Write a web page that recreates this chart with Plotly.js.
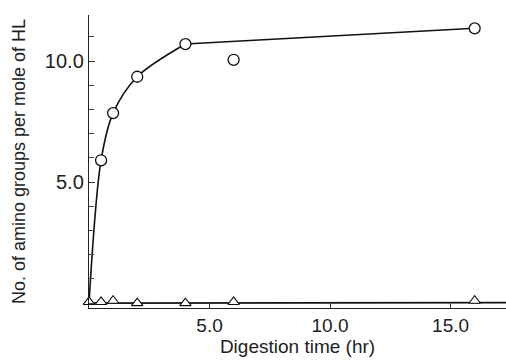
<!DOCTYPE html>
<html>
<head>
<meta charset="utf-8">
<script src="https://cdn.plot.ly/plotly-3.0.1.min.js"></script>
<style>html,body{margin:0;padding:0;background:#fff;}#chart{width:506px;height:363px;}</style>
</head>
<body>
<div id="chart"></div>
<script>
// Digestion time (hr)
var timeCircle = [0.5, 1, 2, 4, 6, 16];
var groupsCircle = [5.9, 7.85, 9.35, 10.7, 10.05, 11.35];
// curve drawn through the circle series: smooth rise from the origin, then a straight segment
var curveTime = [0, 0.5, 1, 2, 4];
var curveGroups = [0, 5.9, 7.85, 9.35, 10.7];
var segTime = [4, 16];
var segGroups = [10.7, 11.35];
var timeTriangle = [0, 0.5, 1, 2, 4, 6, 16];
var groupsTriangle = [0.05, 0.05, 0.1, 0.0, 0.0, 0.05, 0.1];
var triLineTime = [0, 17.3];
var triLineGroups = [0.0, 0.02];
var xTickVals = [5, 10, 15];
var xTickText = ['5.0', '10.0', '15.0'];
var yTickVals = [5, 10];
var yTickText = ['5.0', '10.0'];

var font = {family: 'Liberation Sans, Arial, sans-serif', color: '#222'};

var traces = [
  {x: curveTime, y: curveGroups, mode: 'lines', line: {color: '#111', width: 1.6, shape: 'spline', smoothing: 0.9}, hoverinfo: 'skip', showlegend: false, cliponaxis: false},
  {x: segTime, y: segGroups, mode: 'lines', line: {color: '#111', width: 1.6}, hoverinfo: 'skip', showlegend: false, cliponaxis: false},
  {x: triLineTime, y: triLineGroups, mode: 'lines', line: {color: '#111', width: 1.6}, hoverinfo: 'skip', showlegend: false, cliponaxis: false},
  {x: timeCircle, y: groupsCircle, mode: 'markers', marker: {symbol: 'circle', size: 11, color: '#fff', line: {color: '#111', width: 1.3}}, showlegend: false, cliponaxis: false},
  {x: timeTriangle, y: groupsTriangle, mode: 'markers', marker: {symbol: 'triangle-up', size: 10, color: '#fff', line: {color: '#111', width: 1.1}}, showlegend: false, cliponaxis: false}
];

var layout = {
  width: 506, height: 363,
  margin: {l: 89, r: 0, t: 15, b: 55},
  paper_bgcolor: '#fff', plot_bgcolor: '#fff',
  showlegend: false,
  xaxis: {
    range: [0, 17.3], showgrid: false, zeroline: false,
    showline: true, linecolor: '#222', linewidth: 1.2,
    ticks: 'inside', ticklen: 6, tickwidth: 1, tickcolor: '#333',
    tickvals: xTickVals, ticktext: xTickText,
    tickfont: Object.assign({size: 19}, font),
    title: {text: 'Digestion time (hr)', font: Object.assign({size: 19}, font), standoff: 4}
  },
  yaxis: {
    range: [-0.2, 11.9], showgrid: false, zeroline: false,
    showline: true, linecolor: '#222', linewidth: 1.2,
    ticks: 'inside', ticklen: 6, tickwidth: 1, tickcolor: '#333',
    tickvals: yTickVals, ticktext: yTickText,
    minor: {dtick: 1, tick0: 0, ticks: 'inside', ticklen: 5, tickcolor: '#444', tickwidth: 1},
    tickfont: Object.assign({size: 20}, font),
    title: {text: 'No. of amino groups per mole of HL', font: Object.assign({size: 18}, font), standoff: 14}
  }
};

Plotly.newPlot('chart', traces, layout, {staticPlot: true, displayModeBar: false});
</script>
</body>
</html>
